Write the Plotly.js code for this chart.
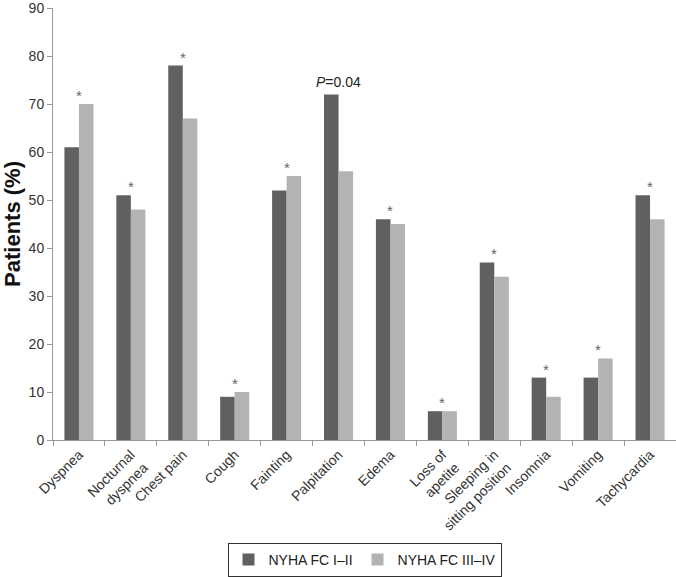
<!DOCTYPE html>
<html>
<head>
<meta charset="utf-8">
<script src="https://cdn.plot.ly/plotly-3.0.1.min.js"></script>
<style>html,body{margin:0;padding:0;background:#fff;}#chart{width:676px;height:577px;}</style>
</head>
<body>
<div id="chart"></div>
<script>
var categories = ["Dyspnea", "Nocturnal<br>dyspnea", "Chest pain", "Cough", "Fainting", "Palpitation", "Edema", "Loss of<br>apetite", "Sleeping in<br>sitting position", "Insomnia", "Vomiting", "Tachycardia"];
var fcI_II = [61, 51, 78, 9, 52, 72, 46, 6, 37, 13, 13, 51];
var fcIII_IV = [70, 48, 67, 10, 55, 56, 45, 6, 34, 9, 17, 46];
var marks = ["*", "*", "*", "*", "*", "<i>P</i>=0.04", "*", "*", "*", "*", "*", "*"];
var seriesNames = ["NYHA FC I–II", "NYHA FC III–IV"];

var traces = [
  {type: "bar", name: seriesNames[0], x: categories, y: fcI_II, marker: {color: "#606060"}},
  {type: "bar", name: seriesNames[1], x: categories, y: fcIII_IV, marker: {color: "#b3b3b3"}}
];

var annotations = categories.map(function (c, i) {
  var isP = marks[i] !== "*";
  return {
    x: c, y: Math.max(fcI_II[i], fcIII_IV[i]), xref: "x", yref: "y",
    text: marks[i], showarrow: false, yanchor: "bottom", yshift: isP ? 2 : -2,
    font: {family: "Liberation Sans, Arial, sans-serif", size: isP ? 14 : 15, color: isP ? "#222" : "#666"}
  };
});

var layout = {
  width: 676, height: 577,
  margin: {l: 53, r: 0, t: 8, b: 128},
  paper_bgcolor: "#fff", plot_bgcolor: "#fff",
  font: {family: "Liberation Sans, Arial, sans-serif", size: 13, color: "#333"},
  barmode: "group", bargap: 0.44, bargroupgap: 0,
  xaxis: {
    tickangle: -45, ticks: "outside", tickson: "boundaries", ticklen: 5, tickcolor: "#999",
    showline: true, linecolor: "#999", linewidth: 1, showgrid: false,
    tickfont: {size: 14, color: "#333"}, automargin: false
  },
  yaxis: {
    range: [0, 90], dtick: 10, ticks: "outside", ticklen: 5, tickcolor: "#999",
    showline: true, linecolor: "#999", linewidth: 1, showgrid: false, zeroline: false,
    tickfont: {size: 14, color: "#333"}, ticklabeloverflow: "allow",
    title: {text: "<b>Patients (%)</b>", font: {size: 22, color: "#111"}, standoff: 7},
    automargin: false
  },
  showlegend: true,
  legend: {
    orientation: "h", x: 0.5, xanchor: "center", y: -0.238, yanchor: "top",
    bordercolor: "#333", borderwidth: 1, font: {size: 14, color: "#222"},
    itemwidth: 30, traceorder: "normal"
  },
  annotations: annotations
};

Plotly.newPlot("chart", traces, layout, {displayModeBar: false, staticPlot: true});
</script>
</body>
</html>
